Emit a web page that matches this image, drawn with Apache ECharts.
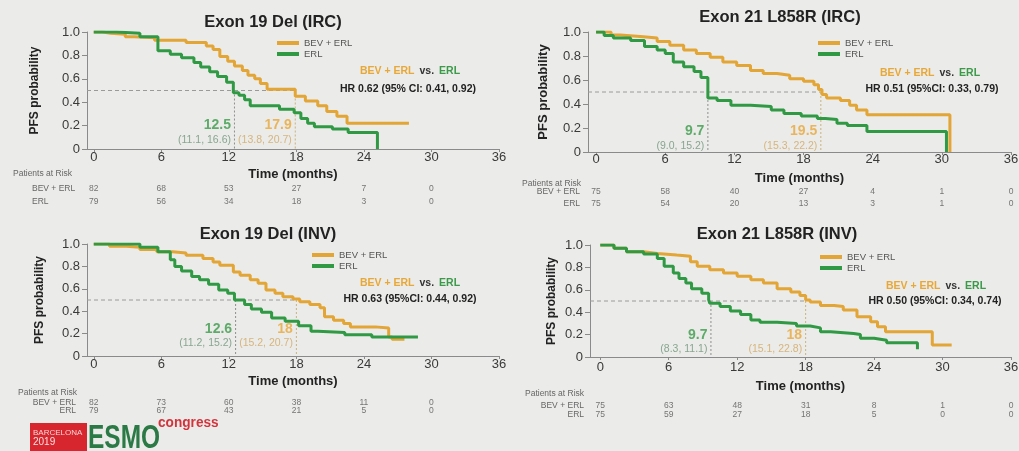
<!DOCTYPE html>
<html><head><meta charset="utf-8">
<script src="https://cdn.jsdelivr.net/npm/echarts@6/dist/echarts.min.js"></script>
<style>html,body{margin:0;padding:0;background:#ebebe9}#c{width:1019px;height:451px}</style>
</head><body><div id="c"></div>
<script>
// ---------------- data ----------------
const xTicks = [0, 6, 12, 18, 24, 30, 36];
const yTicks = [0, 0.2, 0.4, 0.6, 0.8, 1.0];
const armNames = ['BEV + ERL', 'ERL'];
const panelTitles = ['Exon 19 Del (IRC)', 'Exon 21 L858R (IRC)', 'Exon 19 Del (INV)', 'Exon 21 L858R (INV)'];
const hrTexts = ['HR 0.62 (95% CI: 0.41, 0.92)', 'HR 0.51 (95%CI: 0.33, 0.79)', 'HR 0.63 (95%CI: 0.44, 0.92)', 'HR 0.50 (95%CI: 0.34, 0.74)'];
const medianBev = [17.9, 19.5, 18, 18];
const medianErl = [12.5, 9.7, 12.6, 9.7];
const ciBev = ['(13.8, 20.7)', '(15.3, 22.2)', '(15.2, 20.7)', '(15.1, 22.8)'];
const ciErl = ['(11.1, 16.6)', '(9.0, 15.2)', '(11.2, 15.2)', '(8.3, 11.1)'];
const riskTimes = [0, 6, 12, 18, 24, 30, 36];
const p1RiskBev = [82, 68, 53, 27, 7, 0];
const p1RiskErl = [79, 56, 34, 18, 3, 0];
const p2RiskBev = [75, 58, 40, 27, 4, 1, 0];
const p2RiskErl = [75, 54, 20, 13, 3, 1, 0];
const p3RiskBev = [82, 73, 60, 38, 11, 0];
const p3RiskErl = [79, 67, 43, 21, 5, 0];
const p4RiskBev = [75, 63, 48, 31, 8, 1, 0];
const p4RiskErl = [75, 59, 27, 18, 5, 0, 0];

// Kaplan-Meier steps: times (months) and PFS probability after each step
const p1BevT = [0, 0.8, 1.5, 2.8, 3.6, 5.4, 8.2, 10.0, 10.6, 11.2, 11.9, 12.5, 13.2, 13.7, 14.3, 14.8, 15.4, 17.9, 18.8, 19.9, 20.7, 21.6, 22.5, 28.0];
const p1BevS = [1.0, 0.99, 0.98, 0.96, 0.95, 0.93, 0.91, 0.88, 0.85, 0.79, 0.75, 0.71, 0.67, 0.63, 0.60, 0.56, 0.51, 0.45, 0.41, 0.37, 0.32, 0.28, 0.22, 0.22];
const p1ErlT = [0, 2.0, 4.1, 5.7, 6.8, 7.8, 8.9, 9.5, 10.3, 11.0, 11.8, 12.4, 12.9, 13.4, 13.9, 16.5, 17.8, 18.4, 19.0, 19.6, 21.2, 22.6, 25.2];
const p1ErlS = [1.0, 0.99, 0.96, 0.84, 0.81, 0.78, 0.74, 0.70, 0.66, 0.62, 0.57, 0.48, 0.46, 0.42, 0.37, 0.34, 0.31, 0.26, 0.22, 0.19, 0.17, 0.14, 0];

const p2BevT = [0, 1.3, 2.1, 4.1, 5.3, 6.4, 7.6, 8.7, 9.9, 11.0, 12.2, 13.4, 14.5, 15.7, 16.8, 18.0, 18.9, 19.3, 19.6, 20.0, 21.2, 22.0, 22.6, 23.5, 30.7];
const p2BevS = [1.0, 0.975, 0.96, 0.95, 0.92, 0.89, 0.85, 0.82, 0.79, 0.75, 0.72, 0.68, 0.655, 0.64, 0.61, 0.59, 0.56, 0.52, 0.48, 0.45, 0.43, 0.39, 0.35, 0.31, 0];
const p2ErlT = [0, 0.7, 1.5, 3.0, 4.2, 5.3, 6.0, 6.7, 7.6, 8.5, 9.1, 9.7, 10.5, 11.7, 13.4, 15.2, 16.3, 17.8, 19.2, 19.9, 20.9, 21.8, 23.5, 30.4];
const p2ErlS = [1.0, 0.97, 0.95, 0.93, 0.88, 0.85, 0.82, 0.75, 0.71, 0.67, 0.62, 0.45, 0.43, 0.39, 0.38, 0.35, 0.32, 0.30, 0.28, 0.27, 0.24, 0.22, 0.17, 0];

const p3BevT = [0, 1.4, 2.9, 4.1, 5.6, 7.0, 8.2, 9.7, 10.6, 11.2, 12.4, 13.0, 13.9, 14.6, 15.3, 16.1, 16.8, 17.7, 18.3, 19.2, 20.1, 20.5, 21.3, 22.2, 22.8, 25.0, 26.2, 26.5, 27.6];
const p3BevS = [1.0, 0.98, 0.97, 0.95, 0.93, 0.92, 0.90, 0.87, 0.84, 0.81, 0.75, 0.72, 0.68, 0.65, 0.59, 0.56, 0.53, 0.51, 0.485, 0.46, 0.43, 0.35, 0.32, 0.29, 0.26, 0.25, 0.17, 0.15, 0.15];
const p3ErlT = [0, 4.1, 5.7, 6.8, 7.2, 7.8, 8.7, 9.4, 10.2, 11.1, 11.9, 12.5, 13.4, 14.0, 14.9, 15.8, 17.0, 18.2, 19.3, 19.9, 22.3, 24.7, 28.8];
const p3ErlS = [1.0, 0.97, 0.93, 0.86, 0.80, 0.76, 0.71, 0.68, 0.64, 0.59, 0.56, 0.50, 0.46, 0.42, 0.39, 0.34, 0.31, 0.27, 0.22, 0.21, 0.19, 0.17, 0.17];

const p4BevT = [0, 1.2, 2.3, 3.8, 5.0, 6.7, 7.9, 8.5, 9.6, 10.8, 12.0, 13.2, 14.3, 15.5, 16.7, 17.5, 18.0, 18.4, 19.3, 20.5, 21.3, 22.5, 23.7, 24.3, 25.0, 29.1, 30.8];
const p4BevS = [1.0, 0.97, 0.94, 0.925, 0.91, 0.90, 0.85, 0.81, 0.78, 0.75, 0.72, 0.69, 0.66, 0.61, 0.58, 0.55, 0.51, 0.49, 0.46, 0.45, 0.42, 0.36, 0.315, 0.27, 0.226, 0.107, 0.107];
const p4ErlT = [0, 1.2, 2.3, 3.8, 5.0, 5.6, 6.4, 6.9, 7.5, 8.0, 8.9, 9.5, 9.6, 10.5, 11.4, 12.3, 13.2, 14.0, 15.5, 17.2, 18.4, 19.3, 20.2, 22.2, 22.8, 24.0, 25.1, 27.8];
const p4ErlS = [1.0, 0.97, 0.94, 0.92, 0.88, 0.81, 0.75, 0.70, 0.66, 0.61, 0.57, 0.51, 0.48, 0.45, 0.41, 0.38, 0.33, 0.31, 0.30, 0.277, 0.26, 0.226, 0.21, 0.20, 0.167, 0.15, 0.128, 0.07];

// ---------------- layout / style ----------------
const FONT = '"Liberation Sans", Arial, Helvetica, sans-serif';
const ORANGE = '#E3A535', GREEN = '#2F9A43';
const ORANGE_TXT = '#E8A838', GREEN_TXT = '#3A9A48';
const AXIS = '#8a8a8a';

const panels = [
  {bevT: p1BevT, bevS: p1BevS, erlT: p1ErlT, erlS: p1ErlS, riskBev: p1RiskBev, riskErl: p1RiskErl},
  {bevT: p2BevT, bevS: p2BevS, erlT: p2ErlT, erlS: p2ErlS, riskBev: p2RiskBev, riskErl: p2RiskErl},
  {bevT: p3BevT, bevS: p3BevS, erlT: p3ErlT, erlS: p3ErlS, riskBev: p3RiskBev, riskErl: p3RiskErl},
  {bevT: p4BevT, bevS: p4BevS, erlT: p4ErlT, erlS: p4ErlS, riskBev: p4RiskBev, riskErl: p4RiskErl}
];
const L = [
  {left: 87, top: 32, width: 412, height: 117, xMin: -0.6, yNameGap: 46, xNameGap: 19, xLabMargin: 2,
   title: [273, 22], vs: [410, 71], hr: [408, 89], leg: [277, 38], medY: 0.145,
   par: [13, 174], riskTop: 182.5, riskH: 26, riskAlign: 'left', riskMargin: 55},
  {left: 588, top: 32, width: 423, height: 120, xMin: -0.7, yNameGap: 38, xNameGap: 20, xLabMargin: 1,
   title: [780, 17], vs: [930, 73], hr: [932, 89], leg: [818, 38], medY: 0.117,
   par: [522, 184], riskTop: 186, riskH: 24, riskAlign: 'right', riskMargin: 8},
  {left: 87, top: 244, width: 412, height: 112, xMin: -0.6, yNameGap: 41, xNameGap: 19, xLabMargin: 2,
   title: [268, 234], vs: [410, 283], hr: [410, 299], leg: [312, 250], medY: 0.183,
   par: [18, 393], riskTop: 399, riskH: 16, riskAlign: 'right', riskMargin: 11},
  {left: 590, top: 245, width: 421, height: 112, xMin: -0.9, yNameGap: 32, xNameGap: 23, xLabMargin: 4,
   title: [777, 234], vs: [936, 286], hr: [935, 301], leg: [820, 252], medY: 0.138,
   par: [525, 394], riskTop: 401.5, riskH: 18, riskAlign: 'right', riskMargin: 6}
];

const km = (T, S) => T.map((t, i) => [t, S[i]]);

const grids = [], xAxes = [], yAxes = [], series = [], titles = [], legends = [];
panels.forEach((P, i) => {
  const g = L[i];
  const gi = 2 * i, ri = 2 * i + 1;
  grids.push({left: g.left, top: g.top, width: g.width, height: g.height, outerBoundsMode: 'none', containLabel: false});
  grids.push({left: g.left, top: g.riskTop, width: g.width, height: g.riskH, outerBoundsMode: 'none', containLabel: false});
  xAxes.push({
    type: 'value', gridIndex: gi, min: g.xMin, max: 36,
    axisLine: {show: true, lineStyle: {color: AXIS, width: 1}},
    axisTick: {show: true, customValues: xTicks, length: 3, lineStyle: {color: AXIS}},
    axisLabel: {customValues: xTicks, fontSize: 13, color: '#3a3a3a', margin: g.xLabMargin, fontFamily: FONT},
    splitLine: {show: false},
    name: 'Time (months)', nameLocation: 'middle', nameGap: g.xNameGap,
    nameTextStyle: {fontWeight: 'bold', fontSize: 13, color: '#222', fontFamily: FONT}
  });
  xAxes.push({type: 'value', gridIndex: ri, min: g.xMin, max: 36, show: false});
  yAxes.push({
    type: 'value', gridIndex: gi, min: 0, max: 1,
    axisLine: {show: true, onZero: false, lineStyle: {color: AXIS, width: 1}},
    axisTick: {show: true, customValues: yTicks, length: 5, lineStyle: {color: AXIS}},
    axisLabel: {customValues: yTicks, fontSize: 13, color: '#3a3a3a', margin: 7, fontFamily: FONT,
      formatter: v => (Math.abs(v) < 1e-9 ? '0' : v.toFixed(1))},
    splitLine: {show: false},
    name: 'PFS probability', nameLocation: 'middle', nameGap: g.yNameGap,
    nameTextStyle: {fontWeight: 'bold', fontSize: i === 1 ? 13 : 12, color: '#222', fontFamily: FONT}
  });
  yAxes.push({
    type: 'category', gridIndex: ri, data: armNames, inverse: true,
    axisLine: {show: false}, axisTick: {show: false}, splitLine: {show: false},
    axisLabel: {interval: 0, hideOverlap: false, fontSize: 8.5, color: '#666', align: g.riskAlign, margin: g.riskMargin, fontFamily: FONT}
  });

  // median reference lines
  const medMax = Math.max(medianBev[i], medianErl[i]);
  const dash = {type: 'line', xAxisIndex: gi, yAxisIndex: gi, symbol: 'none', silent: true, z: 1, animation: false};
  series.push(Object.assign({}, dash, {data: [[g.xMin, 0.5], [medMax, 0.5]], lineStyle: {type: [4, 3], color: '#9a9a9a', width: 1}}));
  series.push(Object.assign({}, dash, {data: [[medianErl[i], 0.5], [medianErl[i], 0]], lineStyle: {type: [2, 2], color: '#8f8f8f', width: 1}}));
  series.push(Object.assign({}, dash, {data: [[medianBev[i], 0.5], [medianBev[i], 0]], lineStyle: {type: [2, 2], color: '#c9b27e', width: 1}}));

  // KM curves
  series.push({name: armNames[0], type: 'line', step: 'end', xAxisIndex: gi, yAxisIndex: gi, showSymbol: false, symbol: 'none',
    data: km(P.bevT, P.bevS), lineStyle: {color: ORANGE, width: 3}, itemStyle: {color: ORANGE}, z: 3});
  series.push({name: armNames[1], type: 'line', step: 'end', xAxisIndex: gi, yAxisIndex: gi, showSymbol: false, symbol: 'none',
    data: km(P.erlT, P.erlS), lineStyle: {color: GREEN, width: 3}, itemStyle: {color: GREEN}, z: 4});

  // median labels
  const mkLab = (m, ci, c1, c2) => ({
    value: [m, g.medY],
    label: {show: true, position: 'left', distance: 3,
      formatter: '{n|' + m + '}\n{c|' + ci + '}',
      rich: {n: {color: c1, fontSize: 14, fontWeight: 'bold', lineHeight: 16, align: 'right', fontFamily: FONT},
             c: {color: c2, fontSize: 10.5, lineHeight: 13, align: 'right', fontFamily: FONT}}}
  });
  series.push({type: 'scatter', xAxisIndex: gi, yAxisIndex: gi, symbolSize: 1, silent: true, z: 5,
    itemStyle: {color: 'rgba(0,0,0,0)'},
    data: [mkLab(medianErl[i], ciErl[i], GREEN_TXT, '#6e9378'), mkLab(medianBev[i], ciBev[i], ORANGE_TXT, '#D2A862')]});

  // risk table
  const riskSeries = (arr, row) => ({
    type: 'scatter', xAxisIndex: ri, yAxisIndex: ri, symbolSize: 1, silent: true,
    itemStyle: {color: 'rgba(0,0,0,0)'},
    data: arr.map((n, k) => [riskTimes[k], row, n]),
    label: {show: true, position: 'inside', formatter: p => String(p.value[2]), fontSize: 8.5, color: '#555', fontFamily: FONT}
  });
  series.push(riskSeries(P.riskBev, 0));
  series.push(riskSeries(P.riskErl, 1));

  // texts
  titles.push({text: panelTitles[i], left: g.title[0], top: g.title[1], textAlign: 'center', textVerticalAlign: 'middle', padding: 0,
    textStyle: {fontSize: 16.5, fontWeight: 'bold', color: '#222', fontFamily: FONT}});
  titles.push({text: '{o|BEV + ERL} {k|vs.} {g|ERL}', left: g.vs[0], top: g.vs[1], textAlign: 'center', textVerticalAlign: 'middle', padding: 0,
    textStyle: {fontFamily: FONT, rich: {
      o: {color: ORANGE_TXT, fontSize: 10.5, fontWeight: 'bold', fontFamily: FONT},
      k: {color: '#333', fontSize: 10.5, fontWeight: 'bold', fontFamily: FONT},
      g: {color: GREEN_TXT, fontSize: 10.5, fontWeight: 'bold', fontFamily: FONT}}}});
  titles.push({text: hrTexts[i], left: g.hr[0], top: g.hr[1], textAlign: 'center', textVerticalAlign: 'middle', padding: 0,
    textStyle: {fontSize: 10.5, fontWeight: 'bold', color: '#222', fontFamily: FONT}});
  titles.push({text: 'Patients at Risk', left: g.par[0], top: g.par[1], textAlign: 'left', textVerticalAlign: 'middle', padding: 0,
    textStyle: {fontSize: 8.5, fontWeight: 'normal', color: '#666', fontFamily: FONT}});

  legends.push({left: g.leg[0], top: g.leg[1], orient: 'vertical', icon: 'rect', itemWidth: 22, itemHeight: 4, itemGap: 1,
    padding: 0, selectedMode: false, data: armNames,
    textStyle: {fontSize: 9.5, color: '#555', lineHeight: 10, fontFamily: FONT}});
});

// ESMO congress logo
const logo = [
  {type: 'rect', shape: {x: 30, y: 423, width: 57, height: 30}, style: {fill: '#D8262E'}},
  {type: 'text', x: 33, y: 429, style: {text: 'BARCELONA', fill: '#f4d4d4', font: '8px ' + FONT}},
  {type: 'text', x: 33, y: 437, style: {text: '2019', fill: '#f8e0e0', font: '10px ' + FONT}},
  {type: 'text', x: 88, y: 422, scaleX: 0.72, style: {text: 'ESMO', fill: '#2B7A45', font: 'bold 34px ' + FONT}},
  {type: 'text', x: 158, y: 415, scaleX: 0.88, style: {text: 'congress', fill: '#D3343C', font: 'bold 15.5px ' + FONT}}
];

const chart = echarts.init(document.getElementById('c'), null, {renderer: 'canvas'});
chart.setOption({
  backgroundColor: '#ebebe9',
  animation: false,
  textStyle: {fontFamily: FONT},
  title: titles,
  legend: legends,
  grid: grids,
  xAxis: xAxes,
  yAxis: yAxes,
  series: series,
  graphic: logo
});
</script></body></html>
